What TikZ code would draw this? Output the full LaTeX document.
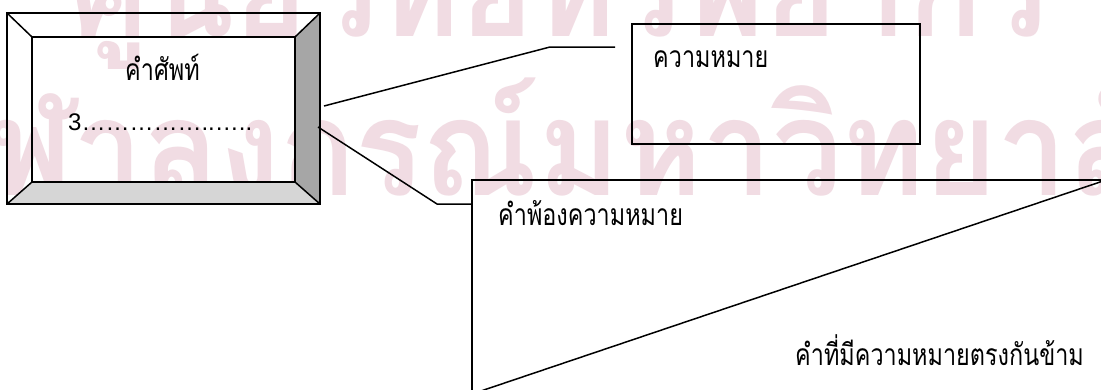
\documentclass[tikz,border=0pt]{standalone}
\usepackage{fontspec}
\setmainfont{Liberation Sans}
\newfontfamily\thaifont[Script=Thai,FakeStretch=0.78]{Loma}
\newfontfamily\wmfont[Script=Thai,FakeStretch=0.93]{Loma}
\definecolor{wmpink}{RGB}{241,220,227}
\definecolor{bevdark}{RGB}{166,166,166}
\definecolor{bevlight}{RGB}{214,214,214}
\tikzset{
  line/.style={line width=1.5pt, black},
  thailabel/.style={anchor=base west, inner sep=0pt, font=\thaifont\fontsize{30}{34}\selectfont},
  latinlabel/.style={anchor=base west, inner sep=0pt, font=\fontsize{24}{28}\selectfont},
  watermark/.style={anchor=base, inner sep=0pt, text=wmpink, font=\wmfont\bfseries\fontsize{134}{140}\selectfont},
}
\begin{document}
\begin{tikzpicture}[x=1pt,y=-1pt]
\useasboundingbox (0,0) rectangle (1101,389);
\clip (0,0) rectangle (1101,389);
\fill[white] (0,0) rectangle (1101,389);
% watermark
\node[watermark] (wm1) at (560,36) {ศูนย์วิทยทรัพยากร};
\node[watermark] (wm2) at (566,195) {จุฬาลงกรณ์มหาวิทยาลัย};
% bevel box
\coordinate (oNW) at (7,13);
\coordinate (oNE) at (320,13);
\coordinate (oSE) at (320,204);
\coordinate (oSW) at (7,204);
\coordinate (iNW) at (32,37);
\coordinate (iNE) at (295,37);
\coordinate (iSE) at (295,182);
\coordinate (iSW) at (32,182);
\fill[bevdark] (iNE) -- (oNE) -- (oSE) -- (iSE) -- cycle;
\fill[bevlight] (iSW) -- (iSE) -- (oSE) -- (oSW) -- cycle;
\draw[line] (oNW) rectangle (oSE);
\draw[line] (iNW) rectangle (iSE);
\draw[line] (oNW) -- (iNW) (oNE) -- (iNE) (oSE) -- (iSE) (oSW) -- (iSW);
\node[thailabel] (term) at (125,80) {คำศัพท์};
\node[latinlabel] (num) at (68,130) {3……………..…..};
% meaning box
\node[draw, line, anchor=north west, minimum width=288pt, minimum height=120pt, inner sep=0pt] (meaning) at (631,23) {};
\node[thailabel] (meaningtxt) at (653,67) {ความหมาย};
% big box
\coordinate (bNW) at (472,180);
\coordinate (bNE) at (1106,180);
\coordinate (bSW) at (472,394);
\coordinate (bSE) at (1106,394);
\draw[line] (bNW) -- (bNE) -- (bSE) -- (bSW) -- cycle;
\draw[line] (bNE) -- (bSW);
\node[thailabel] (syn) at (498,225) {คำพ้องความหมาย};
\node[thailabel] (ant) at (795,365) {คำที่มีความหมายตรงกันข้าม};
% connectors
\coordinate (s1) at (324,106);
\coordinate (k1) at (550,47);
\coordinate (e1) at (615,47);
\draw[line] (s1) -- (k1) -- (e1);
\coordinate (s2) at (318,127);
\coordinate (k2) at (437,204);
\draw[line] (s2) -- (k2) -- (k2 -| bNW);
\end{tikzpicture}
\end{document}
